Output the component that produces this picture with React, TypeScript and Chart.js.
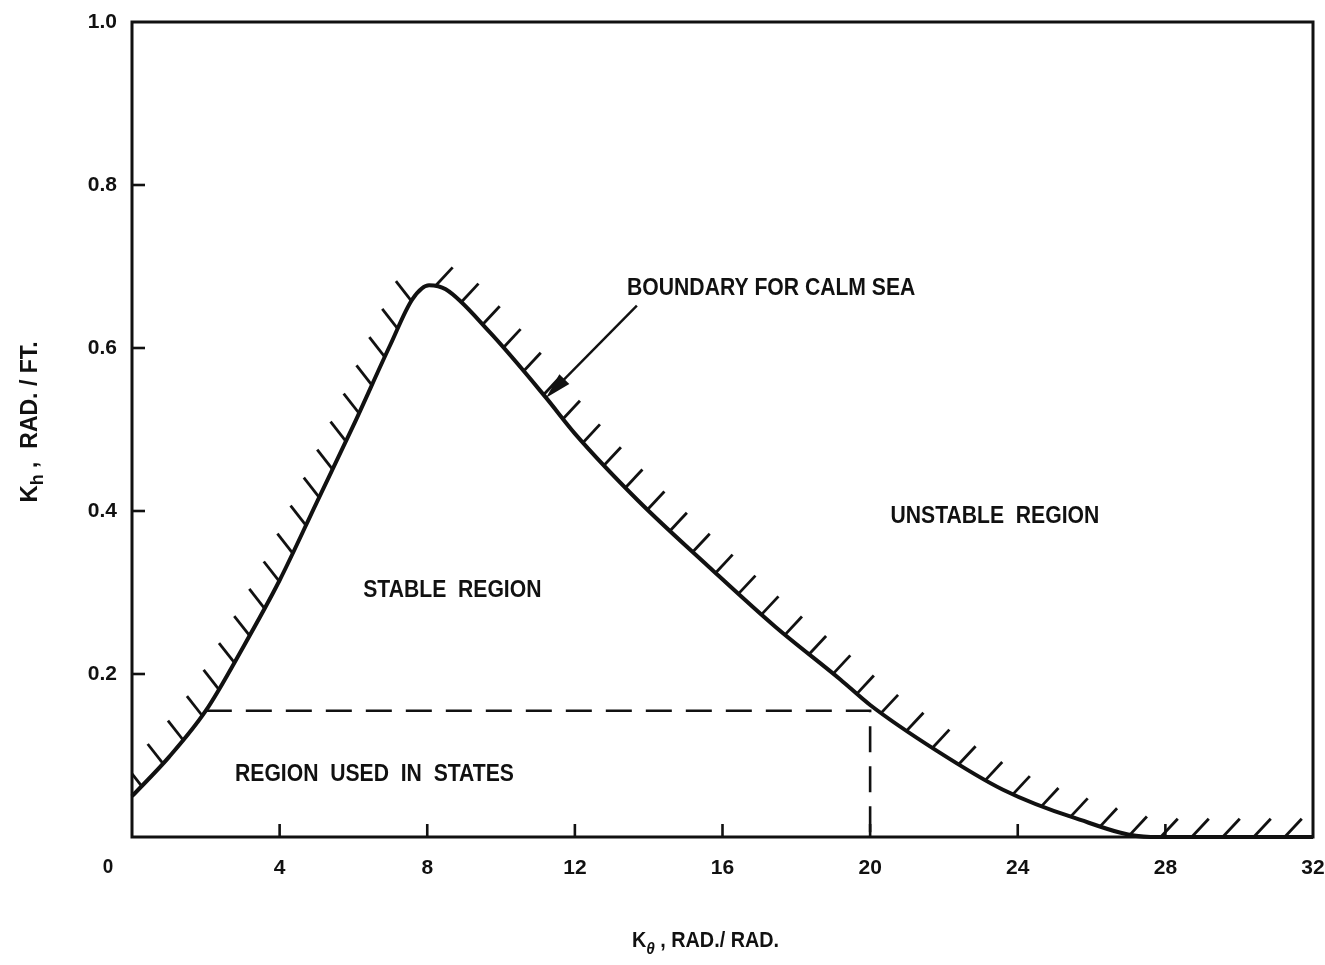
import React, { useEffect, useRef } from 'react';
import { Chart, registerables } from 'chart.js';

Chart.register(...registerables);

// K_theta (rad/rad) and K_h (rad/ft) along the calm-sea stability boundary;
// the boundary continues along K_h = 0 past the point where the curve meets the axis.
const BOUNDARY_X = [0, 1.0, 2.0, 3.0, 4.0, 5.0, 6.0, 7.0, 7.6, 8.05, 8.5, 9.68, 11.2, 12.0, 13.73, 15.62, 17.43, 19.2, 20.0, 21.8, 23.6, 25.5, 27.6, 32];
const BOUNDARY_Y = [0.05, 0.098, 0.155, 0.232, 0.315, 0.41, 0.505, 0.604, 0.66, 0.677, 0.672, 0.62, 0.54, 0.495, 0.412, 0.332, 0.258, 0.193, 0.162, 0.106, 0.058, 0.024, 0, 0];

// Rectangle of gain settings used in the sea states
const REGION_X = [2.0, 20, 20];
const REGION_Y = [0.155, 0.155, 0];

// Axis ranges and tick steps
const X_MIN = 0;
const X_MAX = 32;
const X_STEP = 4;
const Y_MIN = 0;
const Y_MAX = 1.0;
const Y_STEP = 0.2;

// Region annotations, positioned in data units
const NOTE_TEXT = ['BOUNDARY FOR CALM SEA', 'UNSTABLE  REGION', 'STABLE  REGION', 'REGION  USED  IN  STATES'];
const NOTE_X = [17.32, 23.38, 8.68, 6.57];
const NOTE_Y = [0.673, 0.393, 0.303, 0.0765];

// Leader arrow from the boundary label to the curve
const ARROW_FROM = [13.68, 0.652];
const ARROW_TO = [11.22, 0.539];

const INK = '#111111';
const FAMILY = "'Liberation Sans', Arimo, Arial, sans-serif";
const font = (size: number) => `bold ${size}px ${FAMILY}`;
// Lettering is drawn slightly condensed
const SQUEEZE = 0.9;

function drawText(ctx: CanvasRenderingContext2D, text: string, x: number, y: number, size: number, align: CanvasTextAlign) {
  ctx.save();
  ctx.font = font(size);
  ctx.textAlign = align;
  ctx.textBaseline = 'middle';
  ctx.translate(x, y);
  ctx.scale(SQUEEZE, 1);
  ctx.fillText(text, 0, 0);
  ctx.restore();
}

// Samples the rendered (cubic) boundary into a dense pixel polyline
function sampleCurve(chart: any): { x: number; y: number }[] {
  const pts = chart.getDatasetMeta(0).data as any[];
  const out: { x: number; y: number }[] = [];
  for (let i = 0; i < pts.length; i++) {
    const p = pts[i];
    if (i === 0) {
      out.push({ x: p.x, y: p.y });
      continue;
    }
    const a = pts[i - 1];
    const c1x = a.cp2x ?? a.x;
    const c1y = a.cp2y ?? a.y;
    const c2x = p.cp1x ?? p.x;
    const c2y = p.cp1y ?? p.y;
    const n = 24;
    for (let k = 1; k <= n; k++) {
      const t = k / n;
      const u = 1 - t;
      const x = u * u * u * a.x + 3 * u * u * t * c1x + 3 * u * t * t * c2x + t * t * t * p.x;
      const y = u * u * u * a.y + 3 * u * u * t * c1y + 3 * u * t * t * c2y + t * t * t * p.y;
      out.push({ x, y });
    }
  }
  return out;
}

const decorations = {
  id: 'decorations',
  beforeDraw(chart: any) {
    const { ctx, width, height } = chart;
    ctx.save();
    ctx.fillStyle = '#ffffff';
    ctx.fillRect(0, 0, width, height);
    ctx.restore();
  },
  afterDatasetsDraw(chart: any) {
    const { ctx, chartArea } = chart;
    const xs = chart.scales.x;
    const ys = chart.scales.y;
    const { left, right, top, bottom } = chartArea;

    ctx.save();
    ctx.strokeStyle = INK;
    ctx.fillStyle = INK;
    ctx.lineCap = 'butt';

    // Hatching on the unstable side of the boundary
    const poly = sampleCurve(chart);
    let peakX = poly[0].x;
    let peakY = poly[0].y;
    for (const p of poly) {
      if (p.y < peakY) {
        peakY = p.y;
        peakX = p.x;
      }
    }
    const spacing = 31;
    const len = 25;
    const angL = (52 * Math.PI) / 180;
    const angR = (47 * Math.PI) / 180;
    ctx.save();
    ctx.beginPath();
    ctx.rect(left, top, right - left, bottom - top);
    ctx.clip();
    ctx.lineWidth = 2.8;
    let next = 14;
    let acc = 0;
    for (let i = 1; i < poly.length; i++) {
      const a = poly[i - 1];
      const b = poly[i];
      const seg = Math.hypot(b.x - a.x, b.y - a.y);
      while (seg > 0 && next <= acc + seg) {
        const t = (next - acc) / seg;
        const bx = a.x + (b.x - a.x) * t;
        const by = a.y + (b.y - a.y) * t;
        if (bx > right - 14) break;
        let dx = 0;
        let dy = -1;
        if (bx < peakX - 6) {
          dx = -Math.cos(angL);
          dy = -Math.sin(angL);
        } else if (bx > peakX + 6) {
          dx = Math.cos(angR);
          dy = -Math.sin(angR);
        }
        ctx.beginPath();
        ctx.moveTo(bx, by);
        ctx.lineTo(bx + dx * len, by + dy * len);
        ctx.stroke();
        next += spacing;
      }
      acc += seg;
    }
    ctx.restore();

    // Plot frame
    ctx.lineWidth = 3;
    ctx.strokeRect(left, top, right - left, bottom - top);

    // Inward tick marks
    ctx.lineWidth = 2.6;
    for (const t of xs.ticks) {
      if (t.value <= X_MIN || t.value >= X_MAX) continue;
      const px = xs.getPixelForValue(t.value);
      ctx.beginPath();
      ctx.moveTo(px, bottom);
      ctx.lineTo(px, bottom - 13);
      ctx.stroke();
    }
    for (const t of ys.ticks) {
      if (t.value <= Y_MIN || t.value >= Y_MAX) continue;
      const py = ys.getPixelForValue(t.value);
      ctx.beginPath();
      ctx.moveTo(left, py);
      ctx.lineTo(left + 13, py);
      ctx.stroke();
    }

    // Shared origin label
    drawText(ctx, '0', xs.getPixelForValue(0) - 24, bottom + 30, 21, 'center');

    // Leader arrow
    const ax0 = xs.getPixelForValue(ARROW_FROM[0]);
    const ay0 = ys.getPixelForValue(ARROW_FROM[1]);
    const ax1 = xs.getPixelForValue(ARROW_TO[0]);
    const ay1 = ys.getPixelForValue(ARROW_TO[1]);
    const adx = ax1 - ax0;
    const ady = ay1 - ay0;
    const al = Math.hypot(adx, ady);
    const ux = adx / al;
    const uy = ady / al;
    const headLen = 26;
    const headW = 7;
    ctx.lineWidth = 2.4;
    ctx.beginPath();
    ctx.moveTo(ax0, ay0);
    ctx.lineTo(ax1 - ux * headLen * 0.8, ay1 - uy * headLen * 0.8);
    ctx.stroke();
    ctx.beginPath();
    ctx.moveTo(ax1, ay1);
    ctx.lineTo(ax1 - ux * headLen - uy * headW, ay1 - uy * headLen + ux * headW);
    ctx.lineTo(ax1 - ux * headLen + uy * headW, ay1 - uy * headLen - ux * headW);
    ctx.closePath();
    ctx.fill();

    // Region annotations
    for (let i = 0; i < NOTE_TEXT.length; i++) {
      drawText(ctx, NOTE_TEXT[i], xs.getPixelForValue(NOTE_X[i]), ys.getPixelForValue(NOTE_Y[i]), 23.5, 'center');
    }

    // Horizontal axis title: K_theta , RAD./ RAD.
    ctx.textAlign = 'left';
    ctx.textBaseline = 'alphabetic';
    {
      const base = 947;
      ctx.save();
      ctx.translate(632, base);
      ctx.scale(SQUEEZE, 1);
      let x = 0;
      ctx.font = font(22);
      ctx.fillText('K', x, 0);
      x += ctx.measureText('K').width;
      ctx.font = `italic bold 17px ${FAMILY}`;
      ctx.fillText('θ', x, 7);
      x += ctx.measureText('θ').width + 6;
      ctx.font = font(22);
      ctx.fillText(', RAD./ RAD.', x, 0);
      ctx.restore();
    }

    // Vertical axis title: K_h , RAD. / FT.
    {
      const parts = [
        { t: 'K', f: font(24), dy: 0 },
        { t: 'h', f: font(18), dy: 6 },
        { t: ' ,  RAD. / FT.', f: font(23), dy: 0 },
      ];
      let total = 0;
      for (const p of parts) {
        ctx.font = p.f;
        total += ctx.measureText(p.t).width;
      }
      ctx.save();
      ctx.translate(37, 422);
      ctx.rotate(-Math.PI / 2);
      let x = -total / 2;
      for (const p of parts) {
        ctx.font = p.f;
        ctx.fillText(p.t, x, p.dy);
        x += ctx.measureText(p.t).width;
      }
      ctx.restore();
    }

    ctx.restore();
  },
};

export default function App() {
  const canvasRef = useRef<HTMLCanvasElement | null>(null);

  useEffect(() => {
    const canvas = canvasRef.current;
    if (!canvas) return;

    const boundary = BOUNDARY_X.map((x, i) => ({ x, y: BOUNDARY_Y[i] }));
    const region = REGION_X.map((x, i) => ({ x, y: REGION_Y[i] }));

    const chart = new Chart(canvas, {
      type: 'scatter',
      data: {
        datasets: [
          {
            label: 'Boundary for calm sea',
            data: boundary,
            showLine: true,
            borderColor: INK,
            borderWidth: 4,
            pointRadius: 0,
            cubicInterpolationMode: 'monotone',
            clip: false,
          },
          {
            label: 'Region used in states',
            data: region,
            showLine: true,
            borderColor: INK,
            borderWidth: 2.6,
            borderDash: [26, 14],
            pointRadius: 0,
            tension: 0,
          },
        ],
      },
      options: {
        responsive: false,
        animation: false,
        devicePixelRatio: 1,
        layout: { autoPadding: false, padding: { left: 0, top: 22, right: 12, bottom: 0 } },
        plugins: {
          legend: { display: false },
          tooltip: { enabled: false },
          title: { display: false },
        },
        scales: {
          x: {
            type: 'linear',
            min: X_MIN,
            max: X_MAX,
            grid: { display: false, drawTicks: false },
            border: { display: false },
            ticks: {
              stepSize: X_STEP,
              color: INK,
              padding: 19,
              font: { family: FAMILY, size: 21, weight: 'bold' },
              callback: (v: any) => (Number(v) === 0 ? '' : String(v)),
            },
            afterFit: (scale: any) => {
              scale.height = 128;
              scale.paddingLeft = 0;
              scale.paddingRight = 0;
            },
          },
          y: {
            type: 'linear',
            min: Y_MIN,
            max: Y_MAX,
            grid: { display: false, drawTicks: false },
            border: { display: false },
            ticks: {
              stepSize: Y_STEP,
              color: INK,
              padding: 15,
              font: { family: FAMILY, size: 21, weight: 'bold' },
              callback: (v: any) => (Number(v) === 0 ? '' : Number(v).toFixed(1)),
            },
            afterFit: (scale: any) => {
              scale.width = 132;
              scale.paddingTop = 0;
              scale.paddingBottom = 0;
            },
          },
        },
      },
      plugins: [decorations],
    } as any);

    return () => chart.destroy();
  }, []);

  return (
    <div style={{ position: 'fixed', left: 0, top: 0, width: 1325, height: 965, background: '#ffffff' }}>
      <canvas ref={canvasRef} width={1325} height={965} />
    </div>
  );
}
